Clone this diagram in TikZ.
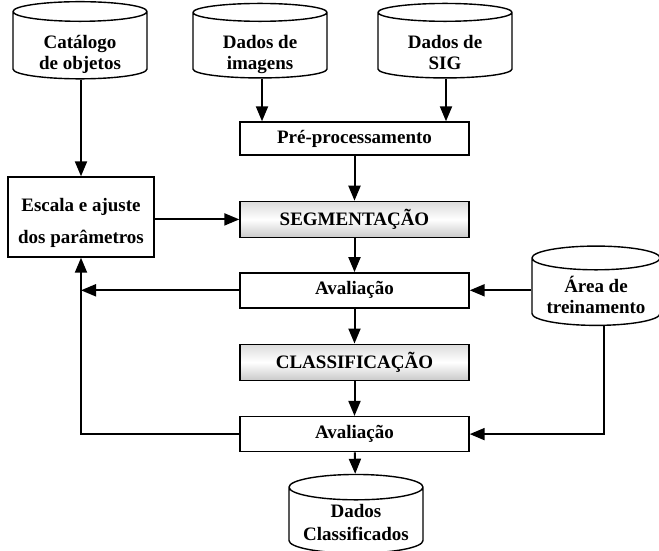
\documentclass[tikz,border=0pt]{standalone}
\usepackage{fontspec}
\setmainfont{Liberation Serif}
\usetikzlibrary{arrows.meta,positioning,shapes.geometric}

\begin{document}
\begin{tikzpicture}[
  x=1pt, y=1pt,
  font=\fontsize{19}{21}\selectfont\bfseries,
  node distance=35pt,
  procbox/.style={
    rectangle, draw, line width=1.4pt,
    minimum width=229pt, minimum height=35pt, inner sep=0pt
  },
  shadebox/.style={
    procbox, top color=gray!28, bottom color=gray!42, middle color=white
  },
  dbase/.style={
    cylinder, shape border rotate=90, aspect=0.24, draw, line width=1.4pt,
    minimum width=134pt, minimum height=69pt, align=center, inner sep=0pt,
    text height=47pt, text depth=-20pt
  },
  arrow/.style={
    line width=2pt, -{Triangle[length=15pt,width=12pt]}
  }
]
\useasboundingbox (0,0) rectangle (659,-550);

% Data sources
\node[dbase] (cat) at (80,-45.5) {Catálogo\\de objetos};
\node[dbase] (img) at (260,-45.5) {Dados de\\imagens};
\node[dbase] (sig) at (445,-45.5) {Dados de\\SIG};

% Main flow
\node[procbox, minimum height=33pt] (pre) at (354.5,-138.5) {Pré-processamento};
\node[shadebox, minimum height=36pt, below=45pt of pre] (seg) {SEGMENTAÇÃO};
\node[procbox, below=34pt of seg] (aval1) {Avaliação};
\node[shadebox, minimum height=36pt, below=of aval1] (class) {CLASSIFICAÇÃO};
\node[procbox, below=of class] (aval2) {Avaliação};
\node[dbase, text height=40pt, text depth=-7pt] (dcl) at (356,-520.5) {Dados\\[2pt]Classificados};

% Side nodes
\node[procbox, minimum width=146pt, minimum height=80pt, align=center,
  text height=53pt, text depth=-12pt] (escala) at (81,-217) {Escala e ajuste\\[11pt]dos parâmetros};
\node[dbase, minimum width=128pt, minimum height=70pt, text height=43pt,
  text depth=-11pt] (area) at (596,-292) {Área de\\treinamento};

% Arrows
\draw[arrow] ([xshift=1pt]cat.south) -- ([xshift=1pt]cat.south |- escala.north);
\draw[arrow] ([xshift=2pt]img.south) -- ([xshift=2pt]img.south |- pre.north);
\draw[arrow] ([xshift=1pt]sig.south) -- ([xshift=1pt]sig.south |- pre.north);

\draw[arrow] (pre) -- (seg);
\draw[arrow] (seg) -- (aval1);
\draw[arrow] (aval1) -- (class);
\draw[arrow] (class) -- (aval2);
\draw[arrow] (aval2) -- (dcl);

\draw[arrow] (escala.east |- seg.west) -- (seg.west);
\draw[arrow] (aval1.west) -- (aval1.west -| escala.south);
\draw[arrow] (aval2.west) -| (escala.south);

\draw[arrow] (area.west |- aval1.east) -- (aval1.east);
\draw[arrow] ([xshift=8pt]area.south) |- (aval2.east);

\end{tikzpicture}
\end{document}
